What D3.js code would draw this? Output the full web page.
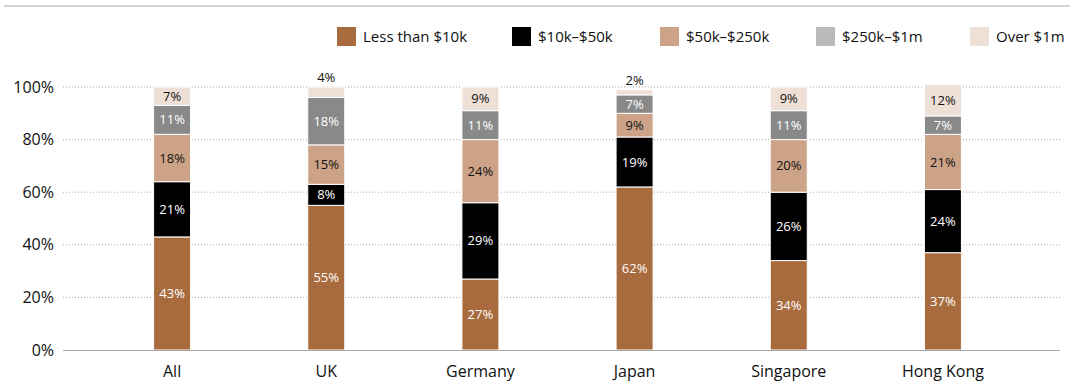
<!DOCTYPE html>
<html>
<head>
<meta charset="utf-8">
<script src="https://cdn.jsdelivr.net/npm/d3@7"></script>
<style>
  html, body { margin: 0; padding: 0; background: #fff; }
  svg { display: block; font-family: "Open Sans", "Noto Sans", sans-serif; }
</style>
</head>
<body>
<svg id="chart" width="1070" height="383"></svg>
<script>
const categories = ["All", "UK", "Germany", "Japan", "Singapore", "Hong Kong"];
const seriesNames = ["Less than $10k", "$10k–$50k", "$50k–$250k", "$250k–$1m", "Over $1m"];
const lessThan10k = [43, 55, 27, 62, 34, 37];
const from10kTo50k = [21, 8, 29, 19, 26, 24];
const from50kTo250k = [18, 15, 24, 9, 20, 21];
const from250kTo1m = [11, 18, 11, 7, 11, 7];
const over1m = [7, 4, 9, 2, 9, 12];
const yTicks = [0, 20, 40, 60, 80, 100];

const seriesValues = [lessThan10k, from10kTo50k, from50kTo250k, from250kTo1m, over1m];
const barColors = ["#a86b3d", "#000000", "#cda387", "#898989", "#eee0d7"];
const legendColors = ["#a86b3d", "#000000", "#cda387", "#b9babc", "#eee0d7"];
const labelColors = ["#ffffff", "#ffffff", "#111111", "#ffffff", "#111111"];

const svg = d3.select("#chart");

// top rule
svg.append("line").attr("x1", 4).attr("x2", 1070).attr("y1", 6).attr("y2", 6)
  .attr("stroke", "#d4d4d4").attr("stroke-width", 2);

const x = d3.scaleBand().domain(categories).range([95, 1020]).paddingInner(0.76).paddingOuter(0.38);
const y = d3.scaleLinear().domain([0, 100]).range([350, 87]);

// gridlines
svg.append("g").selectAll("line").data(yTicks.filter(t => t > 0)).join("line")
  .attr("x1", 63).attr("x2", 1060)
  .attr("y1", d => y(d)).attr("y2", d => y(d))
  .attr("stroke", "#a8a8a8").attr("stroke-width", 1).attr("stroke-dasharray", "1,2");

// y axis labels
const yAxis = d3.axisLeft(y).tickValues(yTicks).tickFormat(d => d + "%").tickSize(0).tickPadding(0);
const yg = svg.append("g").attr("transform", "translate(54,0)").call(yAxis);
yg.select(".domain").remove();
yg.selectAll("text").attr("font-size", 16).attr("fill", "#111").attr("font-family", "Open Sans, sans-serif").attr("dy", "0.32em");

// stacked data
const rows = categories.map((c, i) => {
  const r = { category: c };
  seriesNames.forEach((s, j) => r[s] = seriesValues[j][i]);
  return r;
});
const stack = d3.stack().keys(seriesNames)(rows);

stack.forEach((layer, j) => {
  const g = svg.append("g");
  g.selectAll("rect").data(layer).join("rect")
    .attr("x", d => x(d.data.category))
    .attr("width", x.bandwidth())
    .attr("y", d => y(d[1]))
    .attr("height", d => y(d[0]) - y(d[1]))
    .attr("fill", barColors[j])
    .attr("stroke", "#ffffff").attr("stroke-width", 1);
  g.selectAll("text").data(layer).join("text")
    .attr("x", d => x(d.data.category) + x.bandwidth() / 2)
    .attr("y", d => {
      const v = d[1] - d[0];
      if (v < 5) return y(d[1]) - 5;
      return (y(d[0]) + y(d[1])) / 2;
    })
    .attr("dy", d => (d[1] - d[0]) < 5 ? "0" : "0.35em")
    .attr("text-anchor", "middle")
    .attr("font-size", 13)
    .attr("fill", d => (d[1] - d[0]) < 5 ? "#111" : labelColors[j])
    .text(d => (d[1] - d[0]) + "%");
});

// baseline
svg.append("line").attr("x1", 63).attr("x2", 1060).attr("y1", y(0) + 0.5).attr("y2", y(0) + 0.5)
  .attr("stroke", "#aaaaaa").attr("stroke-width", 1);

// x axis labels
const xAxis = d3.axisBottom(x).tickSize(0).tickPadding(0);
const xg = svg.append("g").attr("transform", `translate(0,${y(0)})`).call(xAxis);
xg.select(".domain").remove();
xg.selectAll("text").attr("font-size", 16).attr("fill", "#111").attr("font-family", "Open Sans, sans-serif")
  .attr("y", 27).attr("dy", 0);

// legend
const legendX = [337, 512, 660, 816, 970];
const lg = svg.append("g");
seriesNames.forEach((s, j) => {
  lg.append("rect").attr("x", legendX[j]).attr("y", 27).attr("width", 19).attr("height", 19).attr("fill", legendColors[j]);
  lg.append("text").attr("x", legendX[j] + 26).attr("y", 36.5).attr("dy", "0.35em")
    .attr("font-size", 15).attr("fill", "#111").text(s);
});
</script>
</body>
</html>
